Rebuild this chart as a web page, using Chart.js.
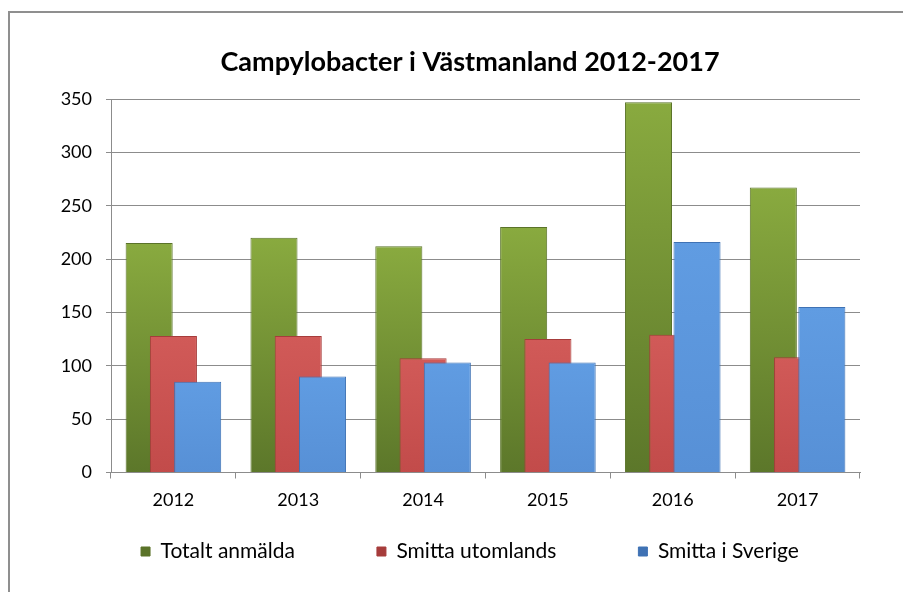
<!DOCTYPE html>
<html lang="sv">
<head>
<meta charset="utf-8">
<title>Campylobacter i Västmanland 2012-2017</title>
<script src="https://cdn.jsdelivr.net/npm/chart.js@4.4.1/dist/chart.umd.min.js"></script>
<style>
  html, body { margin: 0; padding: 0; background: #fff; overflow: hidden; }
  #wrap { position: relative; width: 903px; height: 592px; overflow: hidden; }
  #frame { position: absolute; left: 8px; top: 11px; right: -4px; bottom: -4px;
    border-left: 2px solid #8f8f8f; border-top: 2px solid #8f8f8f; pointer-events: none; }
  canvas { position: absolute; left: 0; top: 0; }
</style>
</head>
<body>
<div id="wrap">
  <canvas id="chart" width="903" height="592"></canvas>
  <div id="frame"></div>
</div>
<script>
(function () {
  "use strict";
  // values
  var YEARS = ["2012", "2013", "2014", "2015", "2016", "2017"];
  var TOTALT = [215, 220, 212, 230, 347, 267];
  var UTOMLANDS = [128, 128, 107, 125, 129, 108];
  var SVERIGE = [85, 90, 103, 103, 216, 155];
  var Y_TICKS = [0, 50, 100, 150, 200, 250, 300, 350];

  var FONT = "Lato, Calibri, 'Open Sans', sans-serif";
  var GRID = "#8c8c8c";
  var LEGEND_GAP = "\u2003\u2003\u2002\u2002"; // Excel spreads the legend entries wider than Chart.js does

  // bar fill: vertical gradient from the bar's own top down to the baseline
  function grad(top, bottom) {
    return function (ctx) {
      var chart = ctx.chart, y = chart.scales.y;
      if (!chart.chartArea || !ctx.parsed) return top;
      var y0 = y.getPixelForValue(ctx.parsed.y), y1 = y.getPixelForValue(0);
      var g = chart.ctx.createLinearGradient(0, y0, 0, y1);
      g.addColorStop(0, top); g.addColorStop(1, bottom);
      return g;
    };
  }

  // Excel draws later series on top of earlier ones; Chart.js does the opposite
  var drawForward = {
    id: "drawForward",
    beforeDatasetsDraw: function (chart) {
      var a = chart.chartArea, c = chart.ctx;
      c.save();
      c.beginPath(); c.rect(a.left, a.top - 2, a.width, a.height + 2); c.clip();
      for (var i = 0; i < chart.data.datasets.length; i++) {
        var meta = chart.getDatasetMeta(i);
        if (meta.visible) meta.controller.draw();
      }
      c.restore();
      return false;
    }
  };

  function ds(label, data, top, bottom, border) {
    return { label: label, data: data, yAxisID: "y", backgroundColor: grad(top, bottom), borderColor: border,
      borderWidth: 1, borderSkipped: "bottom",
      categoryPercentage: 0.583, barPercentage: 1.94 };
  }

  new Chart(document.getElementById("chart"), {
    type: "bar",
    data: {
      labels: YEARS,
      datasets: [
        ds("Totalt anmälda", TOTALT, "#89aa3f", "#5c772a", "#5a7329"),
        ds("Smitta utomlands", UTOMLANDS, "#d15a58", "#c24b4a", "#a63c3b"),
        ds("Smitta i Sverige", SVERIGE, "#609ce2", "#5790d6", "#3f72b4")
      ]
    },
    options: {
      responsive: false, animation: false,
      // the original chart box runs past the right edge, so title and legend sit right of centre
      layout: { padding: { left: 37, right: 0, top: 0, bottom: 20 } },
      plugins: {
        title: { display: true, text: "Campylobacter i Västmanland 2012-2017", color: "#000",
          font: { family: FONT, size: 27, weight: "bold" }, padding: { top: 46, bottom: 20.6 } },
        legend: { position: "bottom",
          labels: { color: "#000", font: { family: FONT, size: 21 }, boxWidth: 9, boxHeight: 9, padding: 29.5,
            generateLabels: function (chart) {
              var items = Chart.defaults.plugins.legend.labels.generateLabels(chart);
              items.forEach(function (it, i) {
                it.fillStyle = chart.data.datasets[i].borderColor;
                if (i < items.length - 1) it.text += LEGEND_GAP;
              });
              return items;
            } } },
        tooltip: { enabled: false }
      },
      scales: {
        x: {
          afterFit: function (s) { s.height = 39; },
          grid: { drawOnChartArea: false, drawTicks: true, tickLength: 6, color: GRID },
          border: { color: GRID },
          ticks: { color: "#000", padding: 10.5, font: { family: FONT, size: 18 } }
        },
        y: {
          min: 0, max: 350,
          afterFit: function (s) { s.width = 74; },
          afterBuildTicks: function (s) { s.ticks = Y_TICKS.map(function (v) { return { value: v }; }); },
          grid: { color: GRID, tickLength: 5 },
          border: { color: GRID },
          ticks: { color: "#000", padding: 14, font: { family: FONT, size: 18 } }
        },
        // empty strip on the right, keeps the plot edge where the original has it
        yRight: {
          position: "right", min: 0, max: 350,
          afterFit: function (s) { s.width = 43; },
          grid: { display: false }, border: { display: false }, ticks: { display: false }
        }
      }
    },
    plugins: [drawForward]
  });
})();
</script>
</body>
</html>
